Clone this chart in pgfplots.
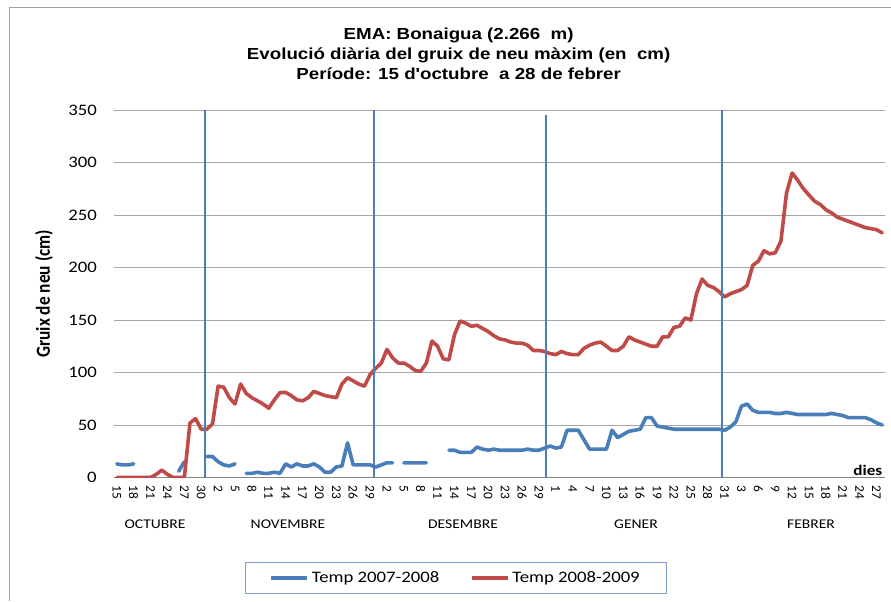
\documentclass[border=0pt]{standalone}
\usepackage{fontspec}
\setmainfont{Carlito}
\newfontfamily\arialfont{Liberation Sans}
\usepackage{graphicx}
\usepackage{pgfplots}
\pgfplotsset{compat=1.18}
\definecolor{serA}{HTML}{4A7EBB}
\definecolor{serB}{HTML}{BE4B48}
\definecolor{gridc}{HTML}{A6A6A6}
\definecolor{axisc}{HTML}{868686}
\definecolor{framec}{HTML}{A0A0A0}
\definecolor{legc}{HTML}{7F9FCF}
\newcommand{\sx}[1]{\scalebox{1.17}[1]{#1}}
\begin{document}
\begin{tikzpicture}
\useasboundingbox (0,0) rectangle (668.25pt,450.75pt);
\draw[framec, line width=0.75pt] (6.75pt,0pt) -- (6.75pt,444.75pt) -- (668.25pt,444.75pt);
\begin{axis}[
  at={(85.5pt,92.625pt)}, anchor=south west,
  width=578.25pt, height=275.625pt, scale only axis,
  xmin=-0.5, xmax=136.5, ymin=0, ymax=350,
  axis x line*=bottom, axis y line*=left,
  x axis line style={draw=axisc, line width=1.1pt, -},
  y axis line style={draw=none},
  tick style={draw=none},
  ymajorgrids, grid style={gridc, line width=0.75pt},
  ytick={0,50,...,350},
  yticklabels={\sx{0},\sx{50},\sx{100},\sx{150},\sx{200},\sx{250},\sx{300},\sx{350}},
  yticklabel style={font=\fontsize{12}{14}\selectfont, anchor=east, inner sep=0pt, xshift=-12.75pt},
  xtick={0,3,...,135},
  xticklabels={15,18,21,24,27,30,2,5,8,11,14,17,20,23,26,29,2,5,8,11,14,17,20,23,26,29,1,4,7,10,13,16,19,22,25,28,31,3,6,9,12,15,18,21,24,27},
  xticklabel style={font=\fontsize{10}{12}\selectfont, yshift=-6pt, rotate=-90, anchor=west, inner sep=0pt},
  ylabel={\scalebox{1}[1.15]{\bfseries Gruix de neu (cm)}},
  ylabel style={font=\fontsize{13}{15}\selectfont, at={(axis description cs:-0.0908,0.5)}, anchor=center},
  unbounded coords=jump,
  legend columns=2,
  legend style={at={(0.4436,-0.2735)}, anchor=center, draw=legc, line width=0.75pt, fill=white,
    font=\fontsize{12}{14}\selectfont, inner xsep=18pt, inner ysep=5pt, nodes={inner sep=2pt},
    /tikz/every even column/.append style={column sep=21pt}},
  legend image code/.code={\draw[#1, line cap=butt] (0pt,0pt) -- (27pt,0pt);},
]
\addplot[serA, line width=2.7pt, line join=round, line cap=round] coordinates {
(0,13) (1,12) (2,12) (3,13) (4,nan) (5,nan) (6,nan) (7,nan) (8,nan) (9,nan) (10,nan)
(11,6) (12,15) (13,nan) (14,nan) (15,nan) (16,20) (17,20) (18,15) (19,12) (20,11) (21,13) (22,nan)
(23,4) (24,4) (25,5) (26,4) (27,4) (28,5) (29,4) (30,13) (31,10) (32,13) (33,11) (34,11) (35,13)
(36,10) (37,5) (38,5) (39,10) (40,11) (41,33) (42,12) (43,12) (44,12) (45,12) (46,10) (47,12)
(48,14) (49,14) (50,nan) (51,14) (52,14) (53,14) (54,14) (55,14) (56,nan) (57,nan) (58,nan)
(59,26) (60,26) (61,24) (62,24) (63,24) (64,29) (65,27) (66,26) (67,27) (68,26) (69,26) (70,26)
(71,26) (72,26) (73,27) (74,26) (75,26) (76,28) (77,30) (78,28) (79,29) (80,45) (81,45) (82,45)
(83,36) (84,27) (85,27) (86,27) (87,27) (88,45) (89,38) (90,41) (91,44) (92,45) (93,46) (94,57)
(95,57) (96,49) (97,48) (98,47) (99,46) (100,46) (101,46) (102,46) (103,46) (104,46) (105,46)
(106,46) (107,46) (108,45) (109,48) (110,53) (111,68) (112,70) (113,64) (114,62) (115,62) (116,62)
(117,61) (118,61) (119,62) (120,61) (121,60) (122,60) (123,60) (124,60) (125,60) (126,60) (127,61)
(128,60) (129,59) (130,57) (131,57) (132,57) (133,57) (134,55) (135,52) (136,50)
};
\addlegendentry{\sx{Temp 2007-2008}}
\addplot[serB, line width=2.7pt, line join=round, line cap=round] coordinates {
(0,0) (1,0) (2,0) (3,0) (4,0) (5,0) (6,0) (7,3) (8,7) (9,3) (10,0) (11,0) (12,0)
(13,52) (14,56) (15,46) (16,46) (17,51) (18,87) (19,86) (20,76) (21,70) (22,89) (23,80) (24,76)
(25,73) (26,70) (27,66) (28,74) (29,81) (30,81) (31,78) (32,74) (33,73) (34,76) (35,82) (36,80)
(37,78) (38,77) (39,76) (40,89) (41,95) (42,92) (43,89) (44,87) (45,98) (46,104) (47,109) (48,122)
(49,114) (50,109) (51,109) (52,106) (53,102) (54,101) (55,109) (56,130) (57,125) (58,113) (59,112)
(60,136) (61,149) (62,147) (63,144) (64,145) (65,142) (66,139) (67,135) (68,132) (69,131) (70,129)
(71,128) (72,128) (73,126) (74,121) (75,121) (76,120) (77,118) (78,117) (79,120) (80,118) (81,117)
(82,117) (83,123) (84,126) (85,128) (86,129) (87,125) (88,121) (89,121) (90,125) (91,134) (92,131)
(93,129) (94,127) (95,125) (96,125) (97,134) (98,134) (99,143) (100,144) (101,152) (102,150)
(103,175) (104,189) (105,183) (106,181) (107,177) (108,172) (109,175) (110,177) (111,179) (112,183)
(113,202) (114,206) (115,216) (116,213) (117,214) (118,225) (119,271) (120,290) (121,283) (122,275)
(123,269) (124,263) (125,260) (126,255) (127,252) (128,248) (129,246) (130,244) (131,242) (132,240)
(133,238) (134,237) (135,236) (136,233)
};
\addlegendentry{\sx{Temp 2008-2009}}
\addplot[serA, line width=1.5pt, forget plot] coordinates {(15.67,0) (15.67,350)};
\addplot[serA, line width=1.5pt, forget plot] coordinates {(45.7,0) (45.7,350)};
\addplot[serA, line width=1.5pt, forget plot] coordinates {(76.2,0) (76.2,345)};
\addplot[serA, line width=1.5pt, forget plot] coordinates {(107.6,0) (107.6,350)};
\end{axis}
\node[anchor=base, font=\arialfont\bfseries\fontsize{12}{14}\selectfont] at (344pt,421.1pt) {\sx{EMA: Bonaigua (2.266\ \ m)}};
\node[anchor=base, font=\arialfont\bfseries\fontsize{12}{14}\selectfont] at (344pt,405.75pt) {\sx{Evolució diària del gruix de neu màxim (en\ \ cm)}};
\node[anchor=base, font=\arialfont\bfseries\fontsize{12}{14}\selectfont] at (344pt,390.75pt) {\sx{Període: 15 d\textquotesingle octubre\ \ a 28 de febrer}};
\node[anchor=base east, font=\fontsize{11}{13}\selectfont\bfseries] at (665.25pt,94.5pt) {\sx{dies}};
\node[anchor=base, font=\fontsize{10}{12}\selectfont] at (116.25pt,54.75pt) {\sx{OCTUBRE}};
\node[anchor=base, font=\fontsize{10}{12}\selectfont] at (216pt,54.75pt) {\sx{NOVEMBRE}};
\node[anchor=base, font=\fontsize{10}{12}\selectfont] at (347.25pt,54.75pt) {\sx{DESEMBRE}};
\node[anchor=base, font=\fontsize{10}{12}\selectfont] at (477pt,54.75pt) {\sx{GENER}};
\node[anchor=base, font=\fontsize{10}{12}\selectfont] at (608.25pt,54.75pt) {\sx{FEBRER}};
\end{tikzpicture}
\end{document}
